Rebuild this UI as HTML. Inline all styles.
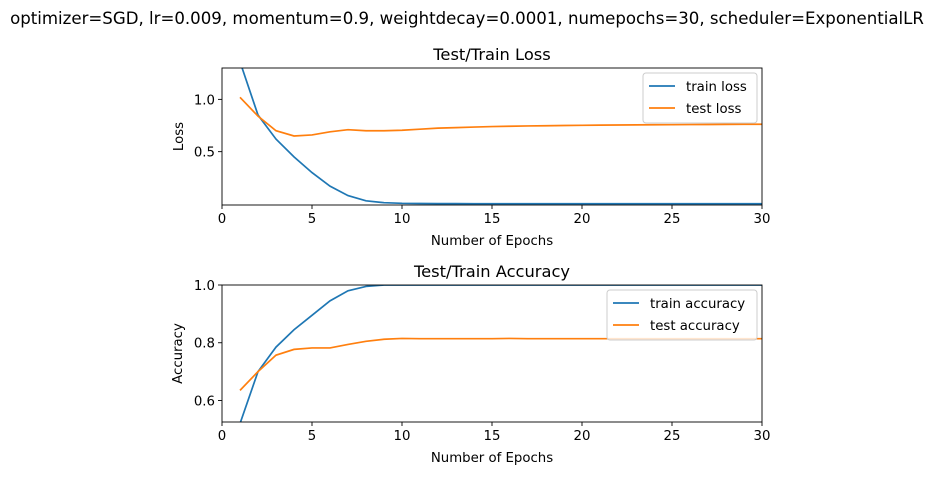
<!DOCTYPE html>
<html><head><meta charset="utf-8"><style>
body{margin:0;background:#fff;font-family:"Liberation Sans","DejaVu Sans",sans-serif}
svg text{font-family:"DejaVu Sans","Liberation Sans",sans-serif;fill:#000}
</style></head><body>
<svg id="c" width="934" height="475" xmlns="http://www.w3.org/2000/svg">
<rect width="934" height="475" fill="#fff"/>
<text x="467" y="24" font-size="16.6" text-anchor="middle">optimizer=SGD, lr=0.009, momentum=0.9, weightdecay=0.0001, numepochs=30, scheduler=ExponentialLR</text>
</svg>
<script>
const epochs=[1,2,3,4,5,6,7,8,9,10,11,12,13,14,15,16,17,18,19,20,21,22,23,24,25,26,27,28,29,30];
const trainLoss=[1.36,0.85,0.62,0.45,0.30,0.17,0.08,0.03,0.012,0.006,0.004,0.003,0.003,0.002,0.002,0.002,0.002,0.002,0.002,0.002,0.002,0.002,0.002,0.002,0.002,0.002,0.002,0.002,0.002,0.002];
const testLoss=[1.02,0.84,0.70,0.65,0.66,0.69,0.71,0.70,0.70,0.705,0.715,0.725,0.73,0.735,0.74,0.743,0.746,0.748,0.75,0.752,0.754,0.755,0.756,0.757,0.758,0.759,0.76,0.761,0.762,0.762];
const trainAcc=[0.52,0.70,0.785,0.845,0.895,0.945,0.98,0.995,1.0,1.0,1.0,1.0,1.0,1.0,1.0,1.0,1.0,1.0,1.0,1.0,1.0,1.0,1.0,1.0,1.0,1.0,1.0,1.0,1.0,1.0];
const testAcc=[0.635,0.70,0.757,0.777,0.782,0.782,0.794,0.805,0.812,0.815,0.814,0.814,0.814,0.814,0.814,0.815,0.814,0.814,0.814,0.814,0.814,0.814,0.814,0.814,0.814,0.814,0.814,0.814,0.814,0.814];
const xTicks=[0,5,10,15,20,25,30];
const lossTicks=[0.5,1.0];
const accTicks=[0.6,0.8,1.0];
const NS="http://www.w3.org/2000/svg";
const svg=document.getElementById('c');
function mk(t,a,p){const e=document.createElementNS(NS,t);for(const k in a)e.setAttribute(k,a[k]);(p||svg).appendChild(e);return e;}
function panel(o){
  const L=222,R=762,T=o.top,B=o.top+137;
  const xs=v=>L+(v-0)/30*(R-L);
  const ys=v=>B-(v-o.ymin)/(o.ymax-o.ymin)*(B-T);
  const g=mk('g',{});
  
  
  const cid='clip'+o.top;
  const cp=mk('clipPath',{id:cid},g);mk('rect',{x:L,y:T,width:R-L,height:B-T},cp);
  const t=mk('text',{x:(L+R)/2,y:T-8,'font-size':16.3,'text-anchor':'middle'},g);t.textContent=o.title;
  
  
  o.series.forEach(s=>{
    const p=mk('polyline',{points:epochs.map((e,i)=>xs(e)+','+ys(s.v[i])).join(' '),fill:'none',stroke:s.c,'stroke-width':1.7,'clip-path':'url(#'+cid+')'},g);
    
    
  });
  mk('rect',{x:L,y:T,width:R-L,height:B-T,fill:'none',stroke:'#000','stroke-width':0.9},g);
  xTicks.forEach(v=>{
    mk('line',{x1:xs(v),x2:xs(v),y1:B,y2:B+4,stroke:'#000','stroke-width':0.9},g);
    const tx=mk('text',{x:xs(v),y:B+18,'font-size':13.3,'text-anchor':'middle'},g);tx.textContent=v;
    
    
  });
  o.ticks.forEach(v=>{
    mk('line',{x1:L-4,x2:L,y1:ys(v),y2:ys(v),stroke:'#000','stroke-width':0.9},g);
    const tx=mk('text',{x:L-7,y:ys(v)+5,'font-size':13.3,'text-anchor':'end'},g);tx.textContent=v.toFixed(1);
    
    
  });
  const xl=mk('text',{x:(L+R)/2,y:B+40,'font-size':13.3,'text-anchor':'middle'},g);xl.textContent='Number of Epochs';
  
  
  const yl=mk('text',{x:0,y:0,'font-size':13.3,'text-anchor':'middle',transform:`translate(${o.ylx},${(T+B)/2}) rotate(-90)`},g);yl.textContent=o.ylabel;
  
  
  const lg=mk('g',{},g);
  
  
  mk('rect',{x:o.lx,y:T+5,width:R-5-o.lx,height:50,rx:3,fill:'#fff','fill-opacity':0.8,stroke:'#ccc'},lg);
  o.series.forEach((s,i)=>{
    const yy=T+18+i*22;
    mk('line',{x1:o.lx+6,x2:o.lx+32,y1:yy,y2:yy,stroke:s.c,'stroke-width':1.7},lg);
    const lt=mk('text',{x:o.lx+43,y:yy+5,'font-size':13.3},lg);lt.textContent=s.n.replace(/-/g,' ');
    
    
  });
}
panel({name:'loss-panel',top:68,ymin:-0.01,ymax:1.30,title:'Test/Train Loss',ylabel:'Loss',ylx:183,ticks:lossTicks,lx:643,
  series:[{n:'train-loss',c:'#1f77b4',v:trainLoss},{n:'test-loss',c:'#ff7f0e',v:testLoss}]});
panel({name:'accuracy-panel',top:285,ymin:0.5255,ymax:1.0,title:'Test/Train Accuracy',ylabel:'Accuracy',ylx:182,ticks:accTicks,lx:607,
  series:[{n:'train-accuracy',c:'#1f77b4',v:trainAcc},{n:'test-accuracy',c:'#ff7f0e',v:testAcc}]});
</script>
</body></html>
